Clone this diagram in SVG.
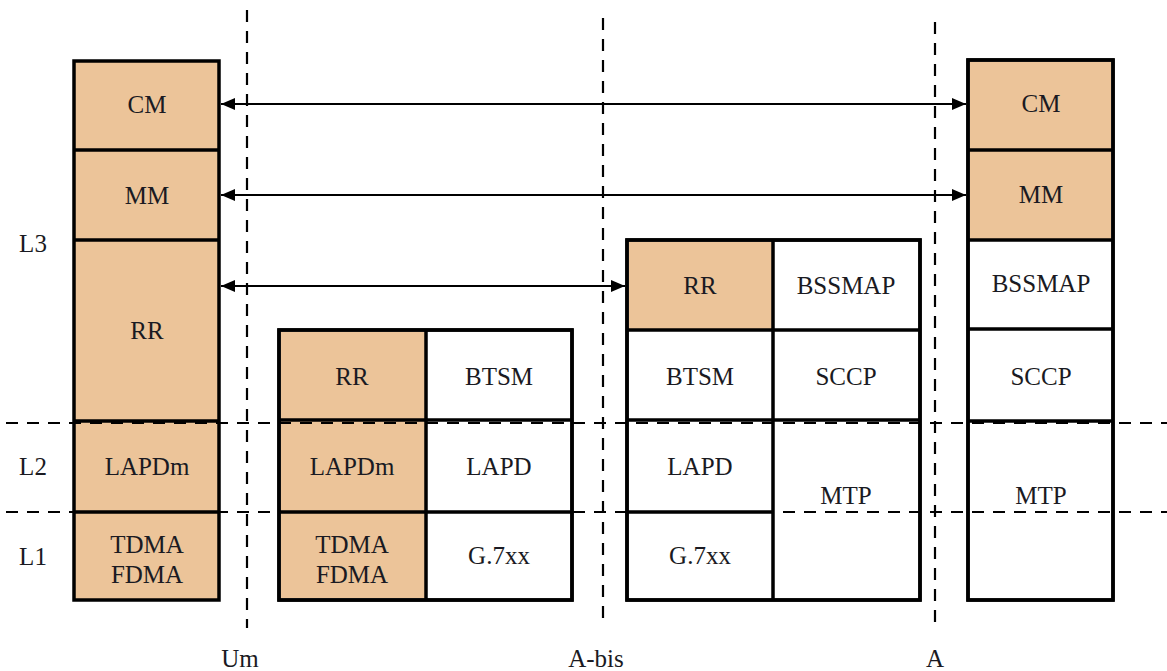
<svg xmlns="http://www.w3.org/2000/svg" width="1167" height="671" viewBox="0 0 1167 671">
  <style>
    .box { stroke: #000; stroke-width: 3.5; stroke-linejoin: miter; }
    .orange { fill: #ecc499; }
    .white { fill: #fff; }
    .div { stroke: #000; stroke-width: 3.5; fill: none; }
    text { font-family: 'Liberation Serif', 'Times New Roman', serif; font-size: 25px; fill: #1a1a22; text-anchor: middle; }
    .dash { stroke: #000; stroke-width: 2.2; stroke-dasharray: 12 9; fill: none; }
    .arrow { stroke: #000; stroke-width: 2; fill: none; marker-start: url(#head); marker-end: url(#head); }
  </style>
  <defs>
    <marker id="head" viewBox="0 0 14 12" refX="14" refY="6" markerWidth="14" markerHeight="12" markerUnits="userSpaceOnUse" orient="auto-start-reverse">
      <path d="M0,0 L14,6 L0,12 Z" fill="#000"/>
    </marker>
  </defs>
  <rect width="1167" height="671" fill="#fff"/>

  <!-- MS stack -->
  <g id="ms">
    <rect class="box orange" x="74" y="61" width="145" height="539"/>
    <path class="div" d="M74,150 H219 M74,240 H219 M74,421 H219 M74,512 H219"/>
    <text x="147" y="113">CM</text>
    <text x="147" y="204">MM</text>
    <text x="147" y="339">RR</text>
    <text x="147" y="475">LAPDm</text>
    <text x="147" y="553">TDMA</text>
    <text x="147" y="583">FDMA</text>
  </g>

  <!-- BTS stack -->
  <g id="bts">
    <rect class="box white" x="279" y="330" width="293" height="270"/>
    <rect class="orange" x="281" y="332" width="145" height="266"/>
    <path class="div" d="M426,330 V600 M279,420 H572 M279,512 H572"/>
    <rect class="box" x="279" y="330" width="293" height="270" fill="none"/>
    <text x="352" y="385">RR</text>
    <text x="499" y="385">BTSM</text>
    <text x="352" y="475">LAPDm</text>
    <text x="499" y="475">LAPD</text>
    <text x="352" y="553">TDMA</text>
    <text x="352" y="583">FDMA</text>
    <text x="499" y="564">G.7xx</text>
  </g>

  <!-- BSC stack -->
  <g id="bsc">
    <rect class="box white" x="627" y="240" width="293" height="360"/>
    <rect class="orange" x="629" y="242" width="144" height="88"/>
    <path class="div" d="M773,240 V600 M627,330 H920 M627,420 H920 M627,512 H773"/>
    <rect class="box" x="627" y="240" width="293" height="360" fill="none"/>
    <text x="700" y="294">RR</text>
    <text x="846" y="294">BSSMAP</text>
    <text x="700" y="385">BTSM</text>
    <text x="846" y="385">SCCP</text>
    <text x="700" y="475">LAPD</text>
    <text x="846" y="504">MTP</text>
    <text x="700" y="564">G.7xx</text>
  </g>

  <!-- MSC stack -->
  <g id="msc">
    <rect class="box white" x="968" y="60" width="145" height="540"/>
    <rect class="orange" x="970" y="62" width="141" height="178"/>
    <path class="div" d="M968,150 H1113 M968,240 H1113 M968,329 H1113 M968,421 H1113"/>
    <rect class="box" x="968" y="60" width="145" height="540" fill="none"/>
    <text x="1041" y="112">CM</text>
    <text x="1041" y="203">MM</text>
    <text x="1041" y="292">BSSMAP</text>
    <text x="1041" y="385">SCCP</text>
    <text x="1041" y="504">MTP</text>
  </g>

  <!-- peer connections -->
  <g id="connectors">
    <line class="arrow" x1="221" y1="104" x2="966" y2="104"/>
    <line class="arrow" x1="221" y1="195" x2="966" y2="195"/>
    <line class="arrow" x1="221" y1="286" x2="625" y2="286"/>
  </g>

  <!-- interface and layer boundaries -->
  <g id="boundaries">
    <line class="dash" x1="247" y1="10" x2="247" y2="628"/>
    <line class="dash" x1="603" y1="18" x2="603" y2="620"/>
    <line class="dash" x1="935" y1="22" x2="935" y2="628"/>
    <line class="dash" x1="6" y1="423" x2="1167" y2="423"/>
    <line class="dash" x1="6" y1="512" x2="1167" y2="512"/>
  </g>

  <g id="labels">
    <text x="33" y="252">L3</text>
    <text x="33" y="475">L2</text>
    <text x="33" y="565">L1</text>
    <text x="240" y="667">Um</text>
    <text x="596" y="667">A-bis</text>
    <text x="935" y="667">A</text>
  </g>
</svg>
